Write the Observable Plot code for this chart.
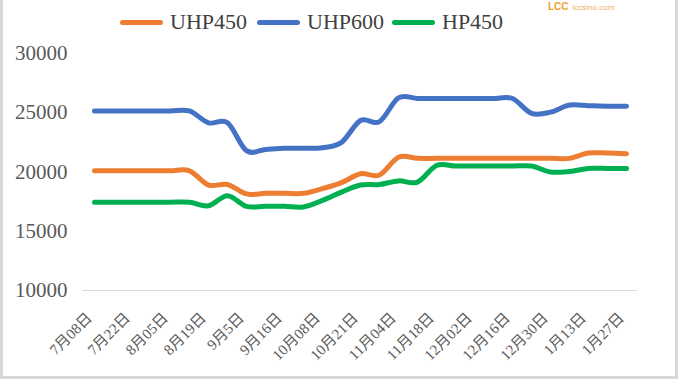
<!DOCTYPE html>
<html><head><meta charset="utf-8">
<script src="https://cdn.jsdelivr.net/npm/d3@7"></script>
<script src="https://cdn.jsdelivr.net/npm/@observablehq/plot@0.6"></script>
<style>
body{margin:0;background:#fff;}
#wrap{position:relative;width:678px;height:380px;overflow:hidden;background:#fff;font-family:"Liberation Serif",serif;}
#legend{position:absolute;left:0;top:0;width:678px;height:40px;}
.item{position:absolute;top:9px;display:flex;align-items:center;font-size:22px;color:#404040;white-space:nowrap;}
.sw{width:43px;height:5px;border-radius:3px;margin-right:7px;}
#chart{position:absolute;left:0;top:40px;}
#frame{position:absolute;left:0;top:-10px;width:678px;height:389px;border:3px solid #d9d9d9;border-top:none;box-sizing:border-box;pointer-events:none;}
#wm{position:absolute;left:548px;top:0px;white-space:nowrap;line-height:9px;}
</style>
</head><body>
<div id="wrap">
  <div id="legend"></div>
  <div id="chart"></div>
  <div id="wm"><span style="font:bold 10px 'Liberation Sans',sans-serif;color:#f0a030">LCC</span> <span style="font:8px 'Liberation Sans',sans-serif;color:#eeb060">lccsino.com</span></div>
  <div id="frame"></div>
</div>
<script>
const tickLabels = ["7月08日","7月22日","8月05日","8月19日","9月5日","9月16日","10月08日","10月21日","11月04日","11月18日","12月02日","12月16日","12月30日","1月13日","1月27日"];
const seriesNames = ["UHP450","UHP600","HP450"];
const seriesColors = ["#ED7D31","#4472C4","#00B050"];
const uhp450 = [20100,20100,20100,20100,20100,20100,18900,18950,18150,18200,18200,18200,18600,19100,19850,19750,21250,21150,21150,21150,21150,21150,21150,21150,21150,21150,21600,21600,21550];
const uhp600 = [25150,25150,25150,25150,25150,25150,24150,24150,21800,21900,22000,22000,22050,22500,24350,24250,26250,26200,26200,26200,26200,26200,26200,24950,25050,25650,25600,25550,25550];
const hp450  = [17450,17450,17450,17450,17450,17450,17150,18000,17100,17100,17100,17050,17600,18300,18900,18950,19250,19150,20550,20500,20500,20500,20500,20500,20000,20050,20300,20300,20300];
const yTicks = [10000,15000,20000,25000,30000];

const values = [uhp450, uhp600, hp450];
const idx = uhp450.map((_, i) => i);
const rows = [];
seriesNames.forEach((s, k) => values[k].forEach((v, i) => rows.push({series: s, i, v})));

// legend
const legend = document.getElementById("legend");
const lefts = [120, 257, 392];
seriesNames.forEach((s, k) => {
  const it = document.createElement("div");
  it.className = "item";
  it.style.left = lefts[k] + "px";
  it.innerHTML = `<span class="sw" style="background:${seriesColors[k]}"></span><span>${s}</span>`;
  legend.appendChild(it);
});

const chart = Plot.plot({
  width: 678, height: 340,
  marginLeft: 82, marginRight: 41, marginTop: 13, marginBottom: 90,
  x: {type: "point", domain: idx, padding: 0.5, axis: null},
  y: {domain: [10000, 30000], axis: null},
  color: {domain: seriesNames, range: seriesColors},
  style: {fontFamily: "'Liberation Serif', 'Noto Sans CJK SC', serif", color: "#595959", background: "transparent"},
  marks: [
    Plot.ruleY([10000], {stroke: "#d9d9d9", strokeWidth: 1}),
    Plot.axisY({ticks: yTicks, tickSize: 0, tickPadding: 15, fontSize: 21, label: null, tickFormat: d => String(d)}),
    Plot.axisX({ticks: idx.filter(i => i % 2 === 0), tickFormat: i => tickLabels[i / 2], tickRotate: -45, tickSize: 0, tickPadding: 12, dx: -5, dy: 13, fontSize: 15, label: null}),
    Plot.line(rows, {x: "i", y: "v", z: "series", stroke: "series", strokeWidth: 5, curve: "cardinal", strokeLinecap: "round", strokeLinejoin: "round"})
  ]
});
document.getElementById("chart").appendChild(chart);
</script>
</body></html>
